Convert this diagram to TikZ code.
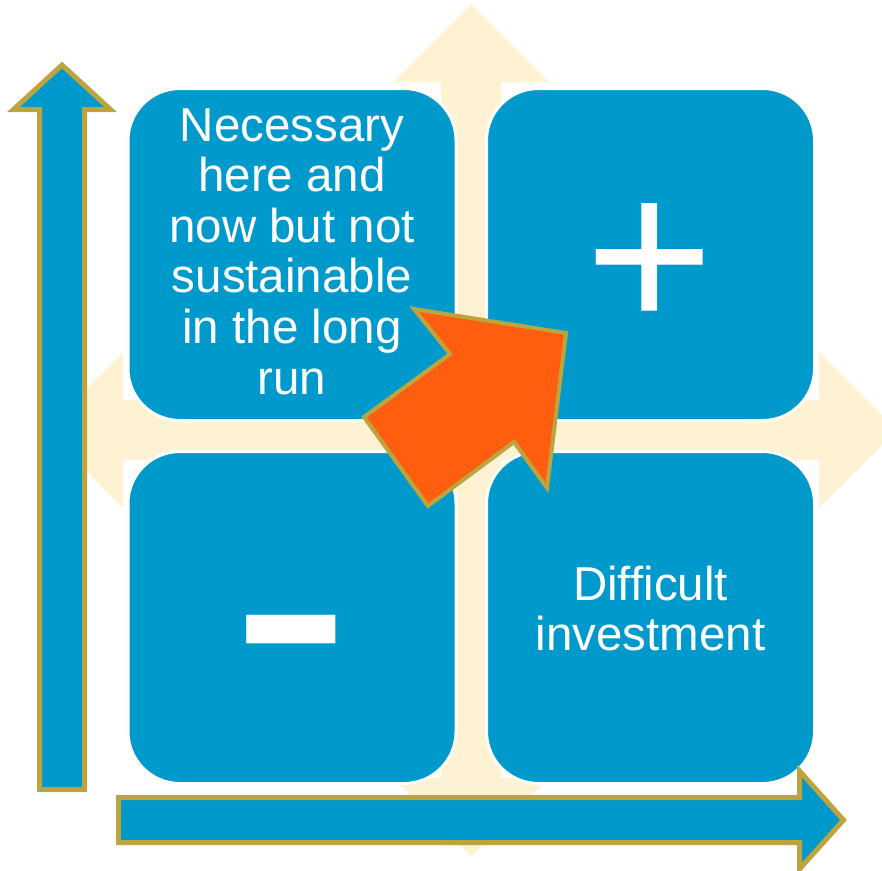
\documentclass[tikz,border=0pt]{standalone}
\usepackage{fontspec}
\setmainfont{Liberation Sans}
\usepackage{xcolor}
\usepackage{tikz}
\usetikzlibrary{positioning}

\definecolor{quadblue}{RGB}{0,153,204}
\definecolor{quadgold}{RGB}{189,164,62}
\definecolor{quadcream}{RGB}{253,242,210}
\definecolor{quadorange}{RGB}{255,94,14}

\begin{document}
\begin{tikzpicture}[x=1pt,y=-1pt,
  box/.style={draw=white,line width=3pt,fill=quadblue,rounded corners=52pt,
    minimum width=328pt,minimum height=332pt,inner sep=0pt},
  boxtext/.style={text=white,align=center,inner sep=0pt,
    font=\fontsize{47.5}{50.6}\selectfont},
  axis/.style={draw=quadgold,line width=5pt,fill=quadblue,line join=miter},
  sign/.style={text=white,inner sep=0pt,anchor=base}]
  \useasboundingbox (0,0) rectangle (882,870);
  % cream four-way arrow behind the quadrants
  \fill[quadcream] (471,4) -- (549,82) -- (501,82) -- (501,400) -- (819,400)
    -- (819,352) -- (897,430) -- (819,508) -- (819,460) -- (501,460)
    -- (501,778) -- (549,778) -- (471,856) -- (393,778) -- (441,778)
    -- (441,460) -- (123,460) -- (123,508) -- (45,430) -- (123,352)
    -- (123,400) -- (441,400) -- (441,82) -- (393,82) -- cycle;
  % quadrants
  \node[box] (tl) at (292,254.5) {};
  \node[box] (tr) at (650.5,254.5) {};
  \node[box] (bl) at (292,617.5) {};
  \node[box] (br) at (650.5,617.5) {};
  \node[boxtext] (tltext) at ([yshift=3pt]tl.center) {Necessary\\here and\\now but not\\sustainable\\in the long\\run};
  \node[boxtext] (brtext) at ([yshift=9pt]br.center) {Difficult\\investment};
  \node[sign,font=\fontsize{220}{220}\selectfont] (plus) at (650,330) {+};
  \node[sign,font=\fontsize{365}{365}\selectfont] (minus) at (291,726) {-};
  % axes
  \draw[axis] (39.5,789.5) -- (39.5,109.5) -- (13.5,109.5) -- (62,65)
    -- (110.5,109.5) -- (84.5,109.5) -- (84.5,789.5) -- cycle;
  \draw[axis] (118.5,797.5) -- (799.5,797.5) -- (799.5,771) -- (843.5,820)
    -- (799.5,869) -- (799.5,842.5) -- (118.5,842.5) -- cycle;
  % big orange arrow towards the plus corner
  \draw[draw=quadgold,line width=4pt,fill=quadorange,line join=miter]
    (364,417) -- (428,506) -- (514,442) -- (547,488) -- (566,333)
    -- (414,309) -- (450,354) -- cycle;
\end{tikzpicture}
\end{document}
